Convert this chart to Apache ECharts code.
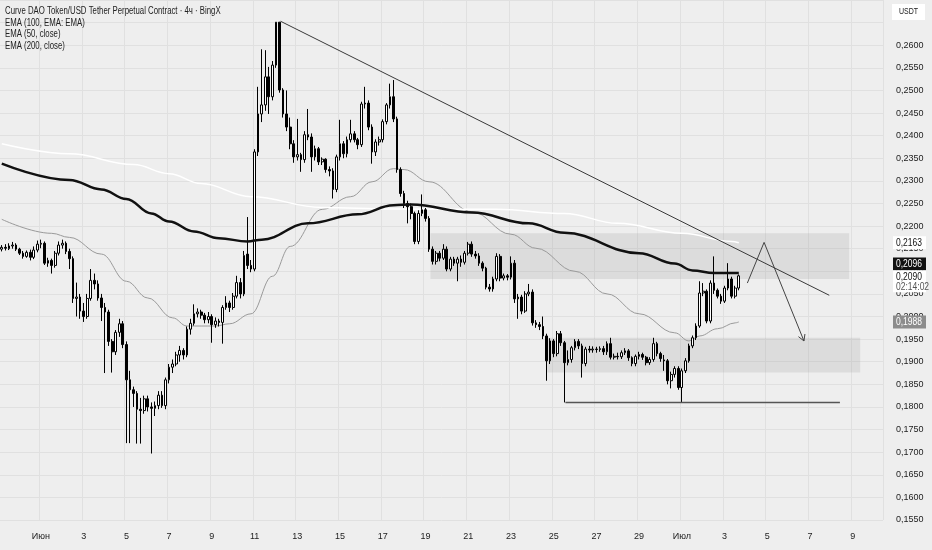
<!DOCTYPE html>
<html>
<head>
<meta charset="utf-8">
<script src="https://cdn.jsdelivr.net/npm/echarts@6.0.0/dist/echarts.min.js"></script>
<style>
html,body{margin:0;padding:0;background:#eeeeee;}
#c{width:932px;height:550px;}
</style>
</head>
<body>
<div id="c"></div>
<script>
// ---------- DATA (prices in 1e-4 USDT; 4h candles from 30 May 04:00) ----------
// [open, close, low, high]
const candlesMay30toJun5 = [
[2149,2153,2144,2158],[2153,2151,2146,2160],[2150,2156,2147,2162],[2156,2158,2150,2165],[2158,2149,2145,2162],[2149,2140,2136,2152],[2140,2133,2128,2145],[2133,2142,2130,2146],[2142,2131,2124,2148],[2131,2147,2127,2155],
[2147,2160,2142,2168],[2160,2162,2151,2170],[2162,2118,2114,2166],[2118,2124,2110,2130],[2124,2113,2095,2128],[2113,2140,2108,2145],[2140,2158,2135,2166],[2158,2162,2150,2170],[2162,2144,2138,2166],[2144,2128,2105,2150],
[2128,2040,2030,2133],[2040,2043,2000,2075],[2043,2012,1995,2050],[2012,2000,1988,2030],[2000,2040,1995,2050],[2040,2080,2035,2105],[2080,2072,2060,2095],[2072,2041,2035,2080],[2041,2020,1990,2050],[2020,2010,1875,2030],
[2010,1945,1935,2015],[1945,1922,1876,1950],[1922,1965,1915,1970],[1965,1984,1955,1995],[1984,1938,1930,1990],[1938,1860,1720,1945],[1860,1838,1720,1880]
];
const candlesJun5toJun11 = [
[1838,1830,1800,1845],[1830,1795,1719,1835],[1795,1792,1719,1820],[1792,1818,1785,1825],[1818,1800,1790,1825],[1800,1797,1697,1810],[1797,1803,1780,1812],[1803,1826,1795,1835],[1826,1803,1798,1835],[1803,1860,1795,1865],
[1860,1888,1852,1895],[1888,1895,1875,1905],[1895,1915,1890,1922],[1915,1925,1900,1935],[1925,1915,1905,1930],[1915,1972,1910,1978],[1972,1985,1960,1995],[1985,2006,1980,2027],[2006,2010,1998,2018],[2010,2003,1995,2015],
[2003,1993,1985,2008],[1993,2000,1985,2010],[2000,1982,1942,2005],[1982,1990,1975,1998],[1990,1987,1978,1995],[1987,2020,1940,2025],[2020,2030,2015,2045],[2030,2020,2010,2035],[2020,2045,2015,2052],[2045,2075,2040,2090],
[2075,2050,2040,2085],[2050,2135,2045,2145],[2138,2113,2105,2220],[2113,2105,2098,2125]
];
const candlesJun11toJun18 = [
[2105,2364,2100,2370],[2364,2448,2355,2508],[2448,2468,2430,2591],[2468,2530,2455,2589],[2530,2486,2448,2552],[2486,2556,2478,2565],[2556,2651,2550,2651],[2651,2501,2495,2651],[2501,2448,2440,2505],[2448,2419,2410,2500],
[2419,2382,2370,2440],[2382,2353,2340,2390],[2353,2358,2345,2437],[2358,2347,2320,2362],[2347,2402,2340,2410],[2402,2397,2390,2459],[2397,2353,2320,2405],[2353,2371,2345,2378],[2371,2342,2335,2375],[2342,2348,2335,2352],
[2348,2325,2318,2350],[2325,2322,2310,2332],[2322,2281,2261,2328],[2281,2353,2275,2358],[2353,2382,2345,2435],[2382,2360,2350,2388],[2360,2391,2352,2398],[2391,2404,2385,2435],[2404,2391,2385,2410],[2391,2380,2370,2395],
[2380,2470,2375,2475],[2470,2472,2460,2508],[2472,2419,2412,2478],[2419,2364,2338,2425],[2364,2386,2355,2392],[2386,2391,2378,2398],[2391,2431,2385,2436],[2431,2468,2425,2472],[2468,2486,2460,2515],[2486,2437,2430,2523],
[2437,2325,2318,2442],[2325,2272,2265,2330],[2272,2250,2240,2278],[2250,2243,2206,2256],[2243,2228,2215,2250],[2228,2166,2160,2232]
];
const candlesJun18toJun26 = [
[2166,2228,2160,2235],[2228,2236,2222,2270],[2236,2217,2210,2240],[2217,2149,2143,2222],[2149,2122,2115,2155],[2122,2140,2115,2145],[2140,2129,2122,2145],[2129,2149,2125,2160],[2149,2105,2100,2155],[2105,2127,2100,2132],
[2127,2118,2112,2132],[2118,2127,2078,2132],[2127,2120,2110,2135],[2120,2140,2115,2145],[2140,2160,2135,2165],[2160,2138,2132,2166],[2138,2134,2128,2145],[2134,2118,2112,2140],[2118,2107,2100,2122],[2107,2065,2060,2110],
[2065,2061,2055,2072],[2061,2083,2055,2088],[2083,2133,2078,2140],[2133,2085,2078,2138],[2085,2090,2080,2095],[2090,2087,2080,2094],[2087,2118,2082,2133],[2118,2039,2030,2125],[2039,2043,1995,2050],[2043,2012,2005,2048],
[2012,2050,2008,2056],[2050,2054,2045,2072],[2054,1986,1980,2060],[1986,1982,1975,1992],[1982,1978,1970,1988],[1978,1957,1950,2000],[1957,1902,1858,1962],[1902,1946,1895,1952],[1946,1918,1910,1950],[1918,1962,1912,1968],
[1962,1942,1935,1968],[1942,1898,1810,1946],[1898,1905,1892,1925],[1905,1931,1898,1935]
];
const candlesJun26toJul3 = [
[1931,1945,1925,1950],[1945,1935,1928,1950],[1935,1896,1865,1940],[1896,1928,1890,1933],[1928,1926,1920,1935],[1926,1928,1920,1934],[1928,1927,1920,1933],[1927,1929,1922,1934],[1929,1922,1915,1935],[1922,1940,1915,1945],
[1940,1910,1905,1953],[1910,1912,1905,1918],[1912,1911,1905,1920],[1911,1920,1906,1925],[1920,1924,1915,1930],[1924,1909,1902,1928],[1909,1896,1890,1912],[1896,1912,1890,1916],[1912,1916,1905,1922],[1916,1910,1904,1920],
[1910,1898,1892,1913],[1898,1905,1893,1910],[1905,1940,1900,1953],[1940,1918,1912,1944],[1918,1907,1900,1922],[1904,1902,1880,1915],[1902,1858,1850,1906],[1858,1872,1841,1878],[1872,1885,1865,1890],[1885,1843,1838,1890],
[1843,1880,1810,1885],[1880,1902,1875,1908],[1902,1935,1898,1940],[1935,1953,1930,1958],[1953,1979,1948,1985],[1979,2052,1975,2078],[2052,2056,2045,2074],[2056,1990,1985,2060],[1990,2074,1985,2080],[2074,2058,2050,2133],
[2058,2045,2040,2062],[2045,2034,2028,2050],[2034,2063,2030,2068],[2063,2083,2058,2118],[2083,2045,2040,2088],[2045,2063,2040,2068],[2063,2090,2058,2093]
];

// EMA curves: [slot index, value]
const ema200Pts = [[0,2338],[19,2302],[28,2281],[35,2260],[42,2228],[47,2210],[54,2188],[61,2173],[69,2166],[73,2170],[86,2206],[100,2226],[110,2246],[115,2248],[132,2230],[148,2206],[158,2185],[179,2140],[189,2117],[194,2102],[200,2096],[207,2096]];
const ema100Pts = [[0,2382],[19,2360],[37,2336],[47,2316],[56,2294],[70,2265],[90,2241],[110,2238],[139,2237],[158,2228],[173,2206],[191,2184],[205,2166],[207,2163]];
const ema50Pts  = [[0,2215],[14,2184],[19,2175],[28,2138],[35,2078],[41,2041],[48,1997],[52,1979],[60,1979],[64,1984],[70,2006],[76,2089],[81,2155],[90,2237],[98,2265],[104,2298],[110,2327],[113,2325],[120,2298],[132,2232],[143,2182],[150,2151],[161,2100],[170,2050],[179,2006],[189,1964],[193,1946],[196,1957],[201,1973],[206,1986],[207,1988]];

// Drawings: [slot, value]
const trendLinePts   = [[78.3,2653],[232.4,2047]];
const supportLinePts = [[158.3,1810],[235.4,1810]];
const arrowPts       = [[209.4,2074],[214.1,2164],[225.3,1946]];
const resistanceZone = [[120.4,2184],[238,2083]];
const supportZone    = [[153.2,1953],[241.1,1876]];

// Axis text
const xTickLabels = ['Июн','3','5','7','9','11','13','15','17','19','21','23','25','27','29','Июл','3','5','7','9'];
const legendLines = ['Curve DAO Token/USD Tether Perpetual Contract · 4ч · BingX','EMA (100, EMA: EMA)','EMA (50, close)','EMA (200, close)'];
const priceTags = [
  {v:2163, bg:'#ffffff', fg:'#111111'},
  {v:2096, bg:'#111111', fg:'#ffffff', shift:-9},
  {v:2090, bg:'#ffffff', fg:'#111111', sub:'02:14:02'},
  {v:1988, bg:'#8c8c8c', fg:'#ffffff'}
];
const Y_MIN = 0.155, Y_MAX = 0.27, Y_STEP = 0.005, Y_LABEL_TOP = 0.26;
const N_SLOTS = 248;
const FIRST_DAY_SLOT = 11;  // 1 June 00:00
const SLOTS_PER_LABEL = 12; // 2 days

// ---------- BUILD ----------
const S = 10000;
const sc = a => a.map(p => [p[0], p[1] / S]);
const candles = [].concat(candlesMay30toJun5, candlesJun5toJun11, candlesJun11toJun18, candlesJun18toJun26, candlesJun26toJul3)
  .map(d => d.map(v => v / S));
const slots = Array.from({length: N_SLOTS}, (_, i) => String(i));
const FONT = '"Liberation Sans", Arial, sans-serif';
const isLabelSlot = i => i >= FIRST_DAY_SLOT && (i - FIRST_DAY_SLOT) % SLOTS_PER_LABEL === 0;
const fmt = v => v.toFixed(4).replace('.', ',');

const chart = echarts.init(document.getElementById('c'), null, {renderer: 'canvas'});

const lineBase = {type: 'line', xAxisIndex: 1, yAxisIndex: 0, showSymbol: false, symbol: 'none', silent: true, animation: false};

chart.setOption({
  backgroundColor: '#eeeeee',
  animation: false,
  grid: {left: -1, right: 49, top: -2.43, bottom: 30},
  xAxis: [
    {
      type: 'category', data: slots, boundaryGap: true,
      axisLine: {show: false}, axisTick: {show: false},
      axisLabel: {
        interval: (i) => isLabelSlot(i),
        formatter: (v, i) => { const k = (Number(v) - FIRST_DAY_SLOT) / SLOTS_PER_LABEL; return xTickLabels[k] || ''; },
        color: '#222', fontSize: 9, fontFamily: FONT, margin: 12
      },
      splitLine: {show: true, interval: (i) => isLabelSlot(i), lineStyle: {color: '#e0e0e0', width: 1}}
    },
    {type: 'value', min: -0.5, max: N_SLOTS - 0.5, show: false}
  ],
  yAxis: {
    type: 'value', position: 'right', min: Y_MIN, max: Y_MAX, interval: Y_STEP,
    axisLine: {show: false}, axisTick: {show: false},
    axisLabel: {formatter: v => v > Y_LABEL_TOP + 0.0001 ? '' : fmt(v), margin: 13, color: '#222', fontSize: 9, fontFamily: FONT},
    splitLine: {lineStyle: {color: '#e0e0e0', width: 1}}
  },
  series: [
    Object.assign({}, lineBase, {
      name: 'zones', data: [], z: 1,
      markArea: {
        silent: true,
        itemStyle: {color: 'rgba(150,150,150,0.2)'},
        data: [resistanceZone, supportZone].map(z => [{coord: [z[0][0], z[0][1] / S]}, {coord: [z[1][0], z[1][1] / S]}])
      }
    }),
    {
      type: 'candlestick', xAxisIndex: 0, yAxisIndex: 0, data: candles, z: 4,
      barWidth: 2.2,
      itemStyle: {color: '#ffffff', color0: '#000000', borderColor: '#000000', borderColor0: '#000000', borderWidth: 1}
    },
    Object.assign({}, lineBase, {name: 'EMA50', data: sc(ema50Pts), smooth: 0.4, smoothMonotone: 'x', z: 3, lineStyle: {color: '#9a9a9a', width: 1}}),
    Object.assign({}, lineBase, {name: 'EMA100', data: sc(ema100Pts), smooth: 0.4, smoothMonotone: 'x', z: 3, lineStyle: {color: '#ffffff', width: 1.5}}),
    Object.assign({}, lineBase, {name: 'EMA200', data: sc(ema200Pts), smooth: 0.4, smoothMonotone: 'x', z: 5, lineStyle: {color: '#111111', width: 2.5}}),
    Object.assign({}, lineBase, {name: 'trend', data: sc(trendLinePts), z: 6, lineStyle: {color: '#3a3a3a', width: 1}}),
    Object.assign({}, lineBase, {name: 'support', data: sc(supportLinePts), z: 6, lineStyle: {color: '#555555', width: 1.5}}),
    Object.assign({}, lineBase, {name: 'arrow', data: sc(arrowPts), z: 6, lineStyle: {color: '#444444', width: 1}})
  ]
});

// ---------- overlay texts / tags ----------
const NARROW = 0.78;
const g = [];
legendLines.forEach((t, i) => {
  g.push({type: 'text', z: 20, x: 5, y: 11 + i * 11.8, scaleX: NARROW,
    style: {x: 0, y: 0, text: t, fill: '#222', font: '10px ' + FONT, verticalAlign: 'middle'}});
});
g.push({type: 'rect', z: 20, shape: {x: 892, y: 4, width: 33, height: 16}, style: {fill: '#ffffff'}});
g.push({type: 'text', z: 21, x: 908.5, y: 12, scaleX: NARROW,
  style: {x: 0, y: 0, text: 'USDT', fill: '#222', font: '9px ' + FONT, align: 'center', verticalAlign: 'middle'}});

priceTags.forEach(t => {
  const y = chart.convertToPixel({yAxisIndex: 0}, t.v / S) + (t.shift || 0);
  const top = t.sub ? y - 5.5 : y - 6.5;
  const h = t.sub ? 22 : 13;
  g.push({type: 'rect', z: 20, shape: {x: 893, y: top, width: 33, height: h}, style: {fill: t.bg}});
  g.push({type: 'text', z: 21, x: 896, y: top + 6.5, scaleX: 0.85,
    style: {x: 0, y: 0, text: fmt(t.v / S), fill: t.fg, font: '10px ' + FONT, verticalAlign: 'middle'}});
  if (t.sub) g.push({type: 'text', z: 21, x: 896, y: top + 16.5, scaleX: 0.85,
    style: {x: 0, y: 0, text: t.sub, fill: '#555', font: '10px ' + FONT, verticalAlign: 'middle'}});
});

// arrow head at the end of the arrow path
const a1 = chart.convertToPixel({xAxisIndex: 1, yAxisIndex: 0}, [arrowPts[1][0], arrowPts[1][1] / S]);
const a2 = chart.convertToPixel({xAxisIndex: 1, yAxisIndex: 0}, [arrowPts[2][0], arrowPts[2][1] / S]);
const ang = Math.atan2(a2[1] - a1[1], a2[0] - a1[0]);
const L = 7, spread = Math.PI / 6;
g.push({type: 'polyline', z: 20, shape: {points: [
  [a2[0] - L * Math.cos(ang - spread), a2[1] - L * Math.sin(ang - spread)],
  [a2[0], a2[1]],
  [a2[0] - L * Math.cos(ang + spread), a2[1] - L * Math.sin(ang + spread)]
]}, style: {stroke: '#444', lineWidth: 1, fill: null}});

chart.setOption({graphic: g});
</script>
</body>
</html>
